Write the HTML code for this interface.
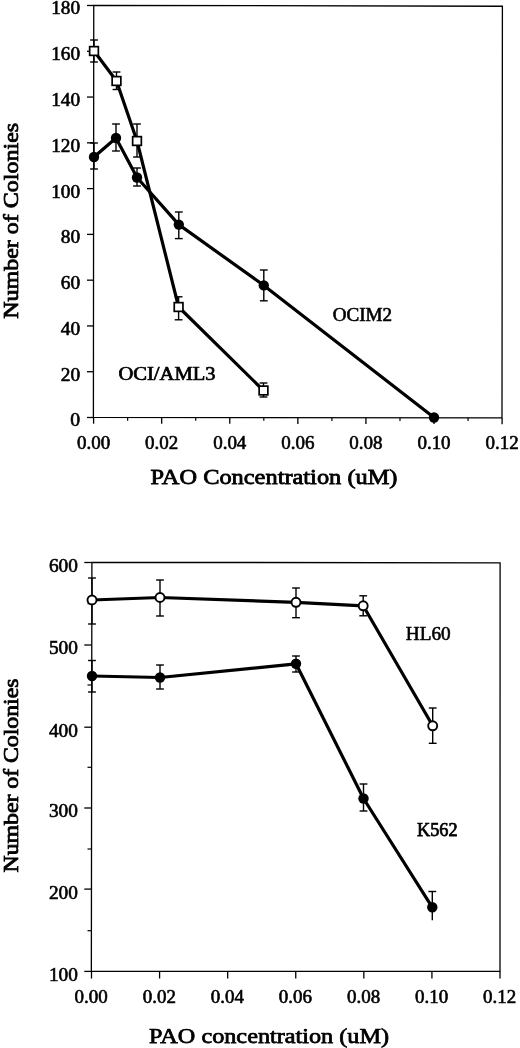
<!DOCTYPE html><html><head><meta charset="utf-8"><title>chart</title><style>html,body{margin:0;padding:0;background:#fff}svg{display:block;will-change:transform}text{font-family:"Liberation Serif",serif;fill:#000}</style></head><body>
<svg width="520" height="1048" viewBox="0 0 520 1048">
<rect width="520" height="1048" fill="#fff"/>
<polygon points="93.75,5.3 502.4,6.25 502.0,417.9 93.4,417.4" fill="none" stroke="#000" stroke-width="1.3" stroke-linejoin="miter"/>
<line x1="87.00" y1="417.50" x2="93.60" y2="417.50" stroke="#000" stroke-width="1.3" />
<text x="80.10" y="426.40" font-size="18.6" font-weight="normal" text-anchor="end" textLength="9.850000000000001" lengthAdjust="spacingAndGlyphs"  stroke="#000" stroke-width="0.6">0</text>
<line x1="87.00" y1="371.72" x2="93.60" y2="371.72" stroke="#000" stroke-width="1.3" />
<text x="80.10" y="380.62" font-size="18.6" font-weight="normal" text-anchor="end" textLength="19.400000000000002" lengthAdjust="spacingAndGlyphs"  stroke="#000" stroke-width="0.6">20</text>
<line x1="87.00" y1="325.94" x2="93.60" y2="325.94" stroke="#000" stroke-width="1.3" />
<text x="80.10" y="334.84" font-size="18.6" font-weight="normal" text-anchor="end" textLength="19.400000000000002" lengthAdjust="spacingAndGlyphs"  stroke="#000" stroke-width="0.6">40</text>
<line x1="87.00" y1="280.17" x2="93.60" y2="280.17" stroke="#000" stroke-width="1.3" />
<text x="80.10" y="289.07" font-size="18.6" font-weight="normal" text-anchor="end" textLength="19.400000000000002" lengthAdjust="spacingAndGlyphs"  stroke="#000" stroke-width="0.6">60</text>
<line x1="87.00" y1="234.39" x2="93.60" y2="234.39" stroke="#000" stroke-width="1.3" />
<text x="80.10" y="243.29" font-size="18.6" font-weight="normal" text-anchor="end" textLength="19.400000000000002" lengthAdjust="spacingAndGlyphs"  stroke="#000" stroke-width="0.6">80</text>
<line x1="87.00" y1="188.61" x2="93.60" y2="188.61" stroke="#000" stroke-width="1.3" />
<text x="80.10" y="197.51" font-size="18.6" font-weight="normal" text-anchor="end" textLength="28.950000000000003" lengthAdjust="spacingAndGlyphs"  stroke="#000" stroke-width="0.6">100</text>
<line x1="87.00" y1="142.83" x2="93.60" y2="142.83" stroke="#000" stroke-width="1.3" />
<text x="80.10" y="151.73" font-size="18.6" font-weight="normal" text-anchor="end" textLength="28.950000000000003" lengthAdjust="spacingAndGlyphs"  stroke="#000" stroke-width="0.6">120</text>
<line x1="87.00" y1="97.06" x2="93.60" y2="97.06" stroke="#000" stroke-width="1.3" />
<text x="80.10" y="105.96" font-size="18.6" font-weight="normal" text-anchor="end" textLength="28.950000000000003" lengthAdjust="spacingAndGlyphs"  stroke="#000" stroke-width="0.6">140</text>
<line x1="87.00" y1="51.28" x2="93.60" y2="51.28" stroke="#000" stroke-width="1.3" />
<text x="80.10" y="60.18" font-size="18.6" font-weight="normal" text-anchor="end" textLength="28.950000000000003" lengthAdjust="spacingAndGlyphs"  stroke="#000" stroke-width="0.6">160</text>
<line x1="87.00" y1="5.50" x2="93.60" y2="5.50" stroke="#000" stroke-width="1.3" />
<text x="80.10" y="14.40" font-size="18.6" font-weight="normal" text-anchor="end" textLength="28.950000000000003" lengthAdjust="spacingAndGlyphs"  stroke="#000" stroke-width="0.6">180</text>
<line x1="93.60" y1="417.40" x2="93.60" y2="423.70" stroke="#000" stroke-width="1.3" />
<text x="93.60" y="448.50" font-size="18.6" font-weight="normal" text-anchor="middle" textLength="33.2" lengthAdjust="spacingAndGlyphs"  stroke="#000" stroke-width="0.6">0.00</text>
<line x1="127.64" y1="417.44" x2="127.64" y2="420.64" stroke="#000" stroke-width="1.2" />
<line x1="161.68" y1="417.48" x2="161.68" y2="423.78" stroke="#000" stroke-width="1.3" />
<text x="161.68" y="448.50" font-size="18.6" font-weight="normal" text-anchor="middle" textLength="33.2" lengthAdjust="spacingAndGlyphs"  stroke="#000" stroke-width="0.6">0.02</text>
<line x1="195.72" y1="417.53" x2="195.72" y2="420.73" stroke="#000" stroke-width="1.2" />
<line x1="229.77" y1="417.57" x2="229.77" y2="423.87" stroke="#000" stroke-width="1.3" />
<text x="229.77" y="448.50" font-size="18.6" font-weight="normal" text-anchor="middle" textLength="33.2" lengthAdjust="spacingAndGlyphs"  stroke="#000" stroke-width="0.6">0.04</text>
<line x1="263.81" y1="417.61" x2="263.81" y2="420.81" stroke="#000" stroke-width="1.2" />
<line x1="297.85" y1="417.65" x2="297.85" y2="423.95" stroke="#000" stroke-width="1.3" />
<text x="297.85" y="448.50" font-size="18.6" font-weight="normal" text-anchor="middle" textLength="33.2" lengthAdjust="spacingAndGlyphs"  stroke="#000" stroke-width="0.6">0.06</text>
<line x1="331.89" y1="417.69" x2="331.89" y2="420.89" stroke="#000" stroke-width="1.2" />
<line x1="365.93" y1="417.73" x2="365.93" y2="424.03" stroke="#000" stroke-width="1.3" />
<text x="365.93" y="448.50" font-size="18.6" font-weight="normal" text-anchor="middle" textLength="33.2" lengthAdjust="spacingAndGlyphs"  stroke="#000" stroke-width="0.6">0.08</text>
<line x1="399.98" y1="417.78" x2="399.98" y2="420.98" stroke="#000" stroke-width="1.2" />
<line x1="434.02" y1="417.82" x2="434.02" y2="424.12" stroke="#000" stroke-width="1.3" />
<text x="434.02" y="448.50" font-size="18.6" font-weight="normal" text-anchor="middle" textLength="33.2" lengthAdjust="spacingAndGlyphs"  stroke="#000" stroke-width="0.6">0.10</text>
<line x1="468.06" y1="417.86" x2="468.06" y2="421.06" stroke="#000" stroke-width="1.2" />
<line x1="502.10" y1="417.90" x2="502.10" y2="424.20" stroke="#000" stroke-width="1.3" />
<text x="502.10" y="448.50" font-size="18.6" font-weight="normal" text-anchor="middle" textLength="33.2" lengthAdjust="spacingAndGlyphs"  stroke="#000" stroke-width="0.6">0.12</text>
<text x="150.50" y="484.20" font-size="22" font-weight="normal" text-anchor="start" textLength="247" lengthAdjust="spacingAndGlyphs"  stroke="#000" stroke-width="0.8">PAO Concentration (uM)</text>
<text transform="translate(18.3,318.8) rotate(-90)" font-size="21.6" stroke="#000" stroke-width="0.8" textLength="196" lengthAdjust="spacingAndGlyphs">Number of Colonies</text>
<line x1="94.00" y1="40.00" x2="94.00" y2="62.00" stroke="#000" stroke-width="1.4" />
<line x1="90.10" y1="40.00" x2="97.90" y2="40.00" stroke="#000" stroke-width="1.4" />
<line x1="90.10" y1="62.00" x2="97.90" y2="62.00" stroke="#000" stroke-width="1.4" />
<line x1="116.50" y1="72.00" x2="116.50" y2="89.50" stroke="#000" stroke-width="1.4" />
<line x1="112.60" y1="72.00" x2="120.40" y2="72.00" stroke="#000" stroke-width="1.4" />
<line x1="112.60" y1="89.50" x2="120.40" y2="89.50" stroke="#000" stroke-width="1.4" />
<line x1="137.00" y1="124.00" x2="137.00" y2="157.00" stroke="#000" stroke-width="1.4" />
<line x1="133.10" y1="124.00" x2="140.90" y2="124.00" stroke="#000" stroke-width="1.4" />
<line x1="133.10" y1="157.00" x2="140.90" y2="157.00" stroke="#000" stroke-width="1.4" />
<line x1="178.60" y1="296.80" x2="178.60" y2="319.80" stroke="#000" stroke-width="1.4" />
<line x1="174.70" y1="296.80" x2="182.50" y2="296.80" stroke="#000" stroke-width="1.4" />
<line x1="174.70" y1="319.80" x2="182.50" y2="319.80" stroke="#000" stroke-width="1.4" />
<line x1="263.50" y1="383.00" x2="263.50" y2="397.00" stroke="#000" stroke-width="1.4" />
<line x1="259.60" y1="383.00" x2="267.40" y2="383.00" stroke="#000" stroke-width="1.4" />
<line x1="259.60" y1="397.00" x2="267.40" y2="397.00" stroke="#000" stroke-width="1.4" />
<line x1="94.00" y1="143.00" x2="94.00" y2="169.00" stroke="#000" stroke-width="1.4" />
<line x1="90.10" y1="143.00" x2="97.90" y2="143.00" stroke="#000" stroke-width="1.4" />
<line x1="90.10" y1="169.00" x2="97.90" y2="169.00" stroke="#000" stroke-width="1.4" />
<line x1="116.00" y1="124.00" x2="116.00" y2="151.00" stroke="#000" stroke-width="1.4" />
<line x1="112.10" y1="124.00" x2="119.90" y2="124.00" stroke="#000" stroke-width="1.4" />
<line x1="112.10" y1="151.00" x2="119.90" y2="151.00" stroke="#000" stroke-width="1.4" />
<line x1="137.00" y1="168.00" x2="137.00" y2="186.00" stroke="#000" stroke-width="1.4" />
<line x1="133.10" y1="168.00" x2="140.90" y2="168.00" stroke="#000" stroke-width="1.4" />
<line x1="133.10" y1="186.00" x2="140.90" y2="186.00" stroke="#000" stroke-width="1.4" />
<line x1="178.80" y1="212.00" x2="178.80" y2="238.60" stroke="#000" stroke-width="1.4" />
<line x1="174.90" y1="212.00" x2="182.70" y2="212.00" stroke="#000" stroke-width="1.4" />
<line x1="174.90" y1="238.60" x2="182.70" y2="238.60" stroke="#000" stroke-width="1.4" />
<line x1="263.80" y1="270.00" x2="263.80" y2="300.80" stroke="#000" stroke-width="1.4" />
<line x1="259.90" y1="270.00" x2="267.70" y2="270.00" stroke="#000" stroke-width="1.4" />
<line x1="259.90" y1="300.80" x2="267.70" y2="300.80" stroke="#000" stroke-width="1.4" />
<polyline points="94.00,51.00 116.50,81.00 137.00,141.00 178.60,307.00 263.50,390.50" fill="none" stroke="#000" stroke-width="3.2" stroke-linejoin="round" stroke-linecap="round"/>
<polyline points="94.00,157.00 116.00,138.00 137.00,177.50 178.80,224.60 263.80,285.40 434.00,417.50" fill="none" stroke="#000" stroke-width="3.2" stroke-linejoin="round" stroke-linecap="round"/>
<rect x="89.65" y="46.65" width="8.7" height="8.7" fill="#fff" stroke="#000" stroke-width="1.7"/>
<rect x="112.15" y="76.65" width="8.7" height="8.7" fill="#fff" stroke="#000" stroke-width="1.7"/>
<rect x="132.65" y="136.65" width="8.7" height="8.7" fill="#fff" stroke="#000" stroke-width="1.7"/>
<rect x="174.25" y="302.65" width="8.7" height="8.7" fill="#fff" stroke="#000" stroke-width="1.7"/>
<rect x="259.15" y="386.15" width="8.7" height="8.7" fill="#fff" stroke="#000" stroke-width="1.7"/>
<circle cx="94.00" cy="157.00" r="5.2" fill="#000"/>
<circle cx="116.00" cy="138.00" r="5.2" fill="#000"/>
<circle cx="137.00" cy="177.50" r="5.2" fill="#000"/>
<circle cx="178.80" cy="224.60" r="5.2" fill="#000"/>
<circle cx="263.80" cy="285.40" r="5.2" fill="#000"/>
<circle cx="434.00" cy="417.50" r="5.2" fill="#000"/>
<text x="332.70" y="321.00" font-size="19" font-weight="normal" text-anchor="start" textLength="59.5" lengthAdjust="spacingAndGlyphs"  stroke="#000" stroke-width="0.6">OCIM2</text>
<text x="118.40" y="379.80" font-size="19.2" font-weight="normal" text-anchor="start" textLength="97.2" lengthAdjust="spacingAndGlyphs"  stroke="#000" stroke-width="0.7">OCI/AML3</text>
<polygon points="91.9,562.3 500.1,562.8 500.0,971.4 91.35,971.4" fill="none" stroke="#000" stroke-width="1.3" stroke-linejoin="miter"/>
<line x1="84.30" y1="971.40" x2="91.50" y2="971.40" stroke="#000" stroke-width="1.3" />
<text x="77.90" y="980.80" font-size="18.6" font-weight="normal" text-anchor="end" textLength="28.950000000000003" lengthAdjust="spacingAndGlyphs"  stroke="#000" stroke-width="0.6">100</text>
<line x1="87.50" y1="930.70" x2="91.50" y2="930.70" stroke="#000" stroke-width="1.2" />
<line x1="84.30" y1="889.10" x2="91.50" y2="889.10" stroke="#000" stroke-width="1.3" />
<text x="77.90" y="898.50" font-size="18.6" font-weight="normal" text-anchor="end" textLength="28.950000000000003" lengthAdjust="spacingAndGlyphs"  stroke="#000" stroke-width="0.6">200</text>
<line x1="87.50" y1="849.00" x2="91.50" y2="849.00" stroke="#000" stroke-width="1.2" />
<line x1="84.30" y1="808.00" x2="91.50" y2="808.00" stroke="#000" stroke-width="1.3" />
<text x="77.90" y="817.40" font-size="18.6" font-weight="normal" text-anchor="end" textLength="28.950000000000003" lengthAdjust="spacingAndGlyphs"  stroke="#000" stroke-width="0.6">300</text>
<line x1="87.50" y1="767.30" x2="91.50" y2="767.30" stroke="#000" stroke-width="1.2" />
<line x1="84.30" y1="727.20" x2="91.50" y2="727.20" stroke="#000" stroke-width="1.3" />
<text x="77.90" y="736.60" font-size="18.6" font-weight="normal" text-anchor="end" textLength="28.950000000000003" lengthAdjust="spacingAndGlyphs"  stroke="#000" stroke-width="0.6">400</text>
<line x1="87.50" y1="685.00" x2="91.50" y2="685.00" stroke="#000" stroke-width="1.2" />
<line x1="84.30" y1="645.00" x2="91.50" y2="645.00" stroke="#000" stroke-width="1.3" />
<text x="77.90" y="654.40" font-size="18.6" font-weight="normal" text-anchor="end" textLength="28.950000000000003" lengthAdjust="spacingAndGlyphs"  stroke="#000" stroke-width="0.6">500</text>
<line x1="87.50" y1="603.70" x2="91.50" y2="603.70" stroke="#000" stroke-width="1.2" />
<line x1="84.30" y1="562.50" x2="91.50" y2="562.50" stroke="#000" stroke-width="1.3" />
<text x="77.90" y="571.90" font-size="18.6" font-weight="normal" text-anchor="end" textLength="28.950000000000003" lengthAdjust="spacingAndGlyphs"  stroke="#000" stroke-width="0.6">600</text>
<line x1="91.50" y1="971.40" x2="91.50" y2="978.50" stroke="#000" stroke-width="1.3" />
<text x="91.20" y="1002.70" font-size="18.6" font-weight="normal" text-anchor="middle" textLength="33.2" lengthAdjust="spacingAndGlyphs"  stroke="#000" stroke-width="0.6">0.00</text>
<line x1="159.58" y1="971.40" x2="159.58" y2="978.50" stroke="#000" stroke-width="1.3" />
<text x="159.28" y="1002.70" font-size="18.6" font-weight="normal" text-anchor="middle" textLength="33.2" lengthAdjust="spacingAndGlyphs"  stroke="#000" stroke-width="0.6">0.02</text>
<line x1="227.67" y1="971.40" x2="227.67" y2="978.50" stroke="#000" stroke-width="1.3" />
<text x="227.37" y="1002.70" font-size="18.6" font-weight="normal" text-anchor="middle" textLength="33.2" lengthAdjust="spacingAndGlyphs"  stroke="#000" stroke-width="0.6">0.04</text>
<line x1="295.75" y1="971.40" x2="295.75" y2="978.50" stroke="#000" stroke-width="1.3" />
<text x="295.45" y="1002.70" font-size="18.6" font-weight="normal" text-anchor="middle" textLength="33.2" lengthAdjust="spacingAndGlyphs"  stroke="#000" stroke-width="0.6">0.06</text>
<line x1="363.83" y1="971.40" x2="363.83" y2="978.50" stroke="#000" stroke-width="1.3" />
<text x="363.53" y="1002.70" font-size="18.6" font-weight="normal" text-anchor="middle" textLength="33.2" lengthAdjust="spacingAndGlyphs"  stroke="#000" stroke-width="0.6">0.08</text>
<line x1="431.92" y1="971.40" x2="431.92" y2="978.50" stroke="#000" stroke-width="1.3" />
<text x="431.62" y="1002.70" font-size="18.6" font-weight="normal" text-anchor="middle" textLength="33.2" lengthAdjust="spacingAndGlyphs"  stroke="#000" stroke-width="0.6">0.10</text>
<line x1="500.00" y1="971.40" x2="500.00" y2="978.50" stroke="#000" stroke-width="1.3" />
<text x="499.70" y="1002.70" font-size="18.6" font-weight="normal" text-anchor="middle" textLength="33.2" lengthAdjust="spacingAndGlyphs"  stroke="#000" stroke-width="0.6">0.12</text>
<text x="149.10" y="1043.40" font-size="21.5" font-weight="normal" text-anchor="start" textLength="240" lengthAdjust="spacingAndGlyphs"  stroke="#000" stroke-width="0.75">PAO concentration (uM)</text>
<text transform="translate(17.5,872.5) rotate(-90)" font-size="21.2" stroke="#000" stroke-width="0.8" textLength="194" lengthAdjust="spacingAndGlyphs">Number of Colonies</text>
<line x1="92.00" y1="578.00" x2="92.00" y2="624.00" stroke="#000" stroke-width="1.4" />
<line x1="88.10" y1="578.00" x2="95.90" y2="578.00" stroke="#000" stroke-width="1.4" />
<line x1="88.10" y1="624.00" x2="95.90" y2="624.00" stroke="#000" stroke-width="1.4" />
<line x1="160.00" y1="580.00" x2="160.00" y2="616.00" stroke="#000" stroke-width="1.4" />
<line x1="156.10" y1="580.00" x2="163.90" y2="580.00" stroke="#000" stroke-width="1.4" />
<line x1="156.10" y1="616.00" x2="163.90" y2="616.00" stroke="#000" stroke-width="1.4" />
<line x1="296.00" y1="588.00" x2="296.00" y2="617.70" stroke="#000" stroke-width="1.4" />
<line x1="292.10" y1="588.00" x2="299.90" y2="588.00" stroke="#000" stroke-width="1.4" />
<line x1="292.10" y1="617.70" x2="299.90" y2="617.70" stroke="#000" stroke-width="1.4" />
<line x1="363.20" y1="595.80" x2="363.20" y2="615.80" stroke="#000" stroke-width="1.4" />
<line x1="359.30" y1="595.80" x2="367.10" y2="595.80" stroke="#000" stroke-width="1.4" />
<line x1="359.30" y1="615.80" x2="367.10" y2="615.80" stroke="#000" stroke-width="1.4" />
<line x1="432.70" y1="708.00" x2="432.70" y2="743.30" stroke="#000" stroke-width="1.4" />
<line x1="428.80" y1="708.00" x2="436.60" y2="708.00" stroke="#000" stroke-width="1.4" />
<line x1="428.80" y1="743.30" x2="436.60" y2="743.30" stroke="#000" stroke-width="1.4" />
<line x1="92.00" y1="660.50" x2="92.00" y2="692.00" stroke="#000" stroke-width="1.4" />
<line x1="88.10" y1="660.50" x2="95.90" y2="660.50" stroke="#000" stroke-width="1.4" />
<line x1="88.10" y1="692.00" x2="95.90" y2="692.00" stroke="#000" stroke-width="1.4" />
<line x1="160.00" y1="665.00" x2="160.00" y2="689.00" stroke="#000" stroke-width="1.4" />
<line x1="156.10" y1="665.00" x2="163.90" y2="665.00" stroke="#000" stroke-width="1.4" />
<line x1="156.10" y1="689.00" x2="163.90" y2="689.00" stroke="#000" stroke-width="1.4" />
<line x1="296.00" y1="656.00" x2="296.00" y2="672.00" stroke="#000" stroke-width="1.4" />
<line x1="292.10" y1="656.00" x2="299.90" y2="656.00" stroke="#000" stroke-width="1.4" />
<line x1="292.10" y1="672.00" x2="299.90" y2="672.00" stroke="#000" stroke-width="1.4" />
<line x1="363.50" y1="784.00" x2="363.50" y2="811.00" stroke="#000" stroke-width="1.4" />
<line x1="359.60" y1="784.00" x2="367.40" y2="784.00" stroke="#000" stroke-width="1.4" />
<line x1="359.60" y1="811.00" x2="367.40" y2="811.00" stroke="#000" stroke-width="1.4" />
<line x1="432.30" y1="891.50" x2="432.30" y2="920.30" stroke="#000" stroke-width="1.4" />
<line x1="428.40" y1="891.50" x2="436.20" y2="891.50" stroke="#000" stroke-width="1.4" />
<polyline points="92.00,600.00 160.00,597.50 296.00,602.30 363.20,605.80 432.70,725.80" fill="none" stroke="#000" stroke-width="3.2" stroke-linejoin="round" stroke-linecap="round"/>
<polyline points="92.00,676.00 160.00,677.50 296.00,663.80 363.50,798.50 432.30,907.30" fill="none" stroke="#000" stroke-width="3.2" stroke-linejoin="round" stroke-linecap="round"/>
<circle cx="92.00" cy="600.00" r="4.5" fill="#fff" stroke="#000" stroke-width="1.9"/>
<circle cx="160.00" cy="597.50" r="4.5" fill="#fff" stroke="#000" stroke-width="1.9"/>
<circle cx="296.00" cy="602.30" r="4.5" fill="#fff" stroke="#000" stroke-width="1.9"/>
<circle cx="363.20" cy="605.80" r="4.5" fill="#fff" stroke="#000" stroke-width="1.9"/>
<circle cx="432.70" cy="725.80" r="4.5" fill="#fff" stroke="#000" stroke-width="1.9"/>
<circle cx="92.00" cy="676.00" r="5.2" fill="#000"/>
<circle cx="160.00" cy="677.50" r="5.2" fill="#000"/>
<circle cx="296.00" cy="663.80" r="5.2" fill="#000"/>
<circle cx="363.50" cy="798.50" r="5.2" fill="#000"/>
<circle cx="432.30" cy="907.30" r="5.2" fill="#000"/>
<text x="405.80" y="640.10" font-size="19.2" font-weight="normal" text-anchor="start" textLength="44.9" lengthAdjust="spacingAndGlyphs"  stroke="#000" stroke-width="0.6">HL60</text>
<text x="417.00" y="835.80" font-size="19" font-weight="normal" text-anchor="start" textLength="40.6" lengthAdjust="spacingAndGlyphs"  stroke="#000" stroke-width="0.75">K562</text>
</svg></body></html>
